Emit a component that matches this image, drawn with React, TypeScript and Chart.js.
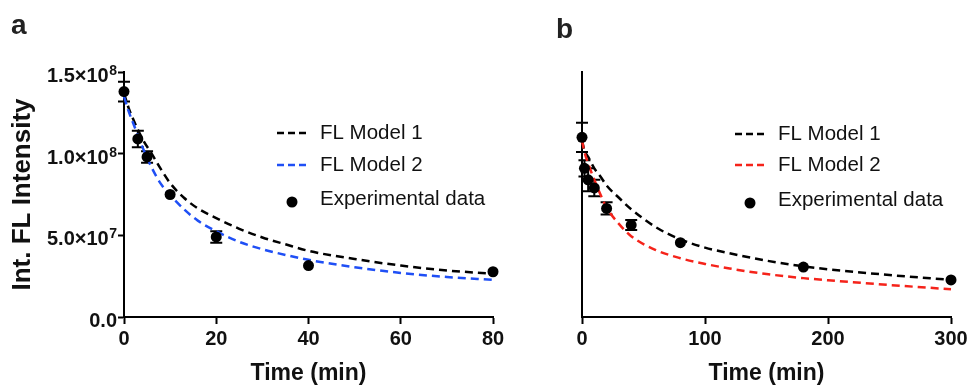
import React, { useEffect, useRef } from 'react';
import { Chart, registerables } from 'chart.js';

Chart.register(...registerables);

// ---------- Data ----------
// Panel a – experimental data
const timeA = [0, 3, 5, 10, 20, 40, 80];
const intensityA = [1.38e8, 1.09e8, 0.98e8, 0.75e8, 0.49e8, 0.315e8, 0.277e8];
const errorA = [0.06e8, 0.05e8, 0.035e8, 0, 0.035e8, 0, 0];
// Panel a – model curves
const fitTimeA = [0, 1, 2, 4, 6, 8, 10, 13, 16, 20, 25, 30, 35, 40, 50, 60, 70, 80];
const model1A = [1.37e8, 1.28e8, 1.21e8, 1.09e8, 1.0e8, 0.905e8, 0.82e8, 0.73e8, 0.665e8, 0.605e8, 0.54e8, 0.487e8, 0.445e8, 0.405e8, 0.355e8, 0.315e8, 0.285e8, 0.265e8];
const model2A = [1.35e8, 1.26e8, 1.186e8, 1.04e8, 0.915e8, 0.815e8, 0.747e8, 0.66e8, 0.59e8, 0.525e8, 0.46e8, 0.415e8, 0.38e8, 0.35e8, 0.305e8, 0.27e8, 0.245e8, 0.228e8];

// Panel b – experimental data
const timeB = [0, 2, 5, 10, 20, 40, 80, 180, 300];
const intensityB = [1.10e8, 0.91e8, 0.84e8, 0.79e8, 0.665e8, 0.563e8, 0.455e8, 0.306e8, 0.227e8];
const errorB = [0.09e8, 0.05e8, 0.07e8, 0.05e8, 0.038e8, 0.031e8, 0, 0, 0];
// Panel b – model curves
const fitTimeB = [0, 2, 5, 10, 15, 20, 30, 40, 60, 80, 100, 120, 150, 180, 200, 250, 300];
const model1B = [1.08e8, 1.02e8, 0.98e8, 0.91e8, 0.86e8, 0.805e8, 0.73e8, 0.66e8, 0.55e8, 0.475e8, 0.425e8, 0.39e8, 0.345e8, 0.31e8, 0.292e8, 0.257e8, 0.227e8];
const model2B = [1.08e8, 1.01e8, 0.94e8, 0.84e8, 0.75e8, 0.67e8, 0.57e8, 0.495e8, 0.41e8, 0.36e8, 0.325e8, 0.297e8, 0.263e8, 0.238e8, 0.225e8, 0.196e8, 0.17e8];

// Axes / labels
const yTickValues = [0, 5e7, 1e8, 1.5e8];
const yTickMantissas = ['0.0', '5.0×10', '1.0×10', '1.5×10'];
const yTickExponents = ['', '7', '8', '8'];
const xMaxA = 80;
const xStepA = 20;
const xMaxB = 300;
const xStepB = 100;
const yMax = 1.5e8;
const seriesLabels = ['FL Model 1', 'FL Model 2', 'Experimental data'];
const panelLetters = ['a', 'b'];
const xTitle = 'Time (min)';
const yTitle = 'Int. FL Intensity';

const FONT = '"Liberation Sans", Arial, Helvetica, sans-serif';

const decorPlugin = {
  id: 'panelDecor',
  beforeDatasetsDraw(chart: any, _args: any, opts: any) {
    const ctx = chart.ctx;
    const xs = chart.scales.x;
    const ys = chart.scales.y;
    const ds = chart.data.datasets[2];
    const errs: number[] = opts.errors || [];
    ctx.save();
    ctx.strokeStyle = '#000';
    ctx.lineWidth = 2;
    ds.data.forEach((p: any, i: number) => {
      const e = errs[i];
      if (!e) return;
      const px = xs.getPixelForValue(p.x);
      const top = ys.getPixelForValue(p.y + e);
      const bot = ys.getPixelForValue(p.y - e);
      ctx.beginPath();
      ctx.moveTo(px, top);
      ctx.lineTo(px, bot);
      ctx.moveTo(px - 6, top);
      ctx.lineTo(px + 6, top);
      ctx.moveTo(px - 6, bot);
      ctx.lineTo(px + 6, bot);
      ctx.stroke();
    });
    ctx.restore();
  },
  afterDraw(chart: any, _args: any, opts: any) {
    const ctx = chart.ctx;
    const ys = chart.scales.y;
    ctx.save();
    // y tick labels with superscript exponents
    if (opts.yLabels) {
      const rightEdge = ys.right - 7;
      ctx.fillStyle = '#111';
      yTickValues.forEach((v, i) => {
        const y = ys.getPixelForValue(v);
        const exp = yTickExponents[i];
        let mRight = rightEdge;
        if (exp) {
          ctx.font = `bold 14px ${FONT}`;
          const w = ctx.measureText(exp).width;
          ctx.textAlign = 'left';
          ctx.textBaseline = 'alphabetic';
          ctx.fillText(exp, rightEdge - w, y + 3);
          mRight = rightEdge - w - 0.5;
        }
        ctx.font = `bold 20px ${FONT}`;
        ctx.textAlign = 'right';
        ctx.textBaseline = 'alphabetic';
        ctx.fillText(yTickMantissas[i], mRight, y + 10);
      });
    }
    // panel letter
    ctx.fillStyle = '#222';
    ctx.font = `bold 28px ${FONT}`;
    ctx.textAlign = 'left';
    ctx.textBaseline = 'alphabetic';
    ctx.fillText(opts.letter, opts.letterX, opts.letterY);
    // legend
    const lg = opts.legend;
    ctx.font = `20.5px ${FONT}`;
    ctx.textBaseline = 'middle';
    chart.data.datasets.forEach((d: any, i: number) => {
      const y = lg.rows[i];
      if (d.showLine === false) {
        ctx.fillStyle = '#000';
        ctx.beginPath();
        ctx.arc(lg.x + 15, y + 3, 5.5, 0, Math.PI * 2);
        ctx.fill();
      } else {
        ctx.strokeStyle = d.borderColor;
        ctx.lineWidth = 2.5;
        ctx.setLineDash([7, 4]);
        ctx.beginPath();
        ctx.moveTo(lg.x, y);
        ctx.lineTo(lg.x + 30, y);
        ctx.stroke();
        ctx.setLineDash([]);
      }
      ctx.fillStyle = '#111';
      ctx.fillText(d.label, lg.textX, y);
    });
    ctx.restore();
  },
};

function buildConfig(p: any) {
  const lineDs = (label: string, xs: number[], ys: number[], color: string, order: number) => ({
    label,
    data: xs.map((x, i) => ({ x, y: ys[i] })),
    borderColor: color,
    backgroundColor: color,
    borderWidth: 2.5,
    borderDash: [8, 5],
    pointRadius: 0,
    fill: false,
    cubicInterpolationMode: 'monotone',
    clip: false,
    order,
  });
  return {
    type: 'line',
    data: {
      datasets: [
        lineDs(seriesLabels[0], p.fitTime, p.model1, '#000000', 2),
        lineDs(seriesLabels[1], p.fitTime, p.model2, p.color2, 1),
        {
          label: seriesLabels[2],
          data: p.time.map((x: number, i: number) => ({ x, y: p.values[i] })),
          showLine: false,
          pointRadius: 5.5,
          pointBackgroundColor: '#000',
          pointBorderWidth: 0,
          borderColor: '#000',
          backgroundColor: '#000',
          clip: false,
          order: 0,
        },
      ],
    },
    options: {
      responsive: false,
      animation: false,
      devicePixelRatio: 1,
      layout: { padding: p.padding },
      plugins: {
        legend: { display: false },
        tooltip: { enabled: false },
        panelDecor: {
          errors: p.errors,
          letter: p.letter,
          letterX: p.letterX,
          letterY: p.letterY,
          legend: p.legend,
          yLabels: p.showY,
        },
      },
      scales: {
        x: {
          type: 'linear',
          min: 0,
          max: p.xMax,
          ticks: {
            stepSize: p.xStep,
            color: '#111',
            font: { family: FONT, size: 20, weight: 'bold' },
            padding: 3,
            maxRotation: 0,
          },
          grid: {
            display: true,
            drawOnChartArea: false,
            drawTicks: true,
            tickLength: 7,
            tickWidth: 2,
            tickColor: '#000',
          },
          border: { display: true, color: '#000', width: 2 },
          title: {
            display: true,
            text: xTitle,
            color: '#111',
            font: { family: FONT, size: 23, weight: 'bold' },
            padding: { top: 0, bottom: 3 },
          },
          afterFit: (s: any) => {
            s.height = 73;
          },
        },
        y: {
          type: 'linear',
          min: 0,
          max: yMax,
          ticks: {
            display: false,
            stepSize: 5e7,
          },
          grid: {
            display: true,
            drawOnChartArea: false,
            drawTicks: p.showY,
            tickLength: p.showY ? 6 : 0,
            tickWidth: 2,
            tickColor: '#000',
          },
          border: { display: true, color: '#000', width: 2 },
          title: {
            display: p.showY,
            text: yTitle,
            color: '#111',
            font: { family: FONT, size: 26, weight: 'bold' },
            padding: { top: 7, bottom: 0 },
          },
          afterFit: (s: any) => {
            s.width = p.yWidth;
          },
        },
      },
    },
    plugins: [decorPlugin],
  };
}

function Panel(props: { cfg: any; width: number; height: number; left: number }) {
  const ref = useRef<HTMLCanvasElement | null>(null);
  useEffect(() => {
    if (!ref.current) return;
    const chart = new Chart(ref.current, buildConfig(props.cfg) as any);
    return () => chart.destroy();
  }, []);
  return (
    <canvas
      ref={ref}
      width={props.width}
      height={props.height}
      style={{ position: 'absolute', left: props.left, top: 0, width: props.width, height: props.height }}
    />
  );
}

export default function App() {
  useEffect(() => {
    document.body.style.margin = '0';
    document.body.style.background = '#fff';
  }, []);
  const cfgA = {
    time: timeA,
    values: intensityA,
    errors: errorA,
    fitTime: fitTimeA,
    model1: model1A,
    model2: model2A,
    color2: '#1f4ff5',
    xMax: xMaxA,
    xStep: xStepA,
    showY: true,
    yWidth: 124,
    padding: { left: 0, right: 27, top: 72, bottom: 0 },
    letter: panelLetters[0],
    letterX: 11,
    letterY: 34,
    legend: { x: 277, textX: 320, rows: [133, 165, 199] },
  };
  const cfgB = {
    time: timeB,
    values: intensityB,
    errors: errorB,
    fitTime: fitTimeB,
    model1: model1B,
    model2: model2B,
    color2: '#f5231a',
    xMax: xMaxB,
    xStep: xStepB,
    showY: false,
    yWidth: 62,
    padding: { left: 0, right: 21, top: 72, bottom: 0 },
    letter: panelLetters[1],
    letterX: 36,
    letterY: 38,
    legend: { x: 215, textX: 258, rows: [134, 165, 200] },
  };
  return (
    <div style={{ position: 'relative', width: 972, height: 390, background: '#fff', overflow: 'hidden' }}>
      <Panel cfg={cfgA} width={520} height={390} left={0} />
      <Panel cfg={cfgB} width={452} height={390} left={520} />
    </div>
  );
}
